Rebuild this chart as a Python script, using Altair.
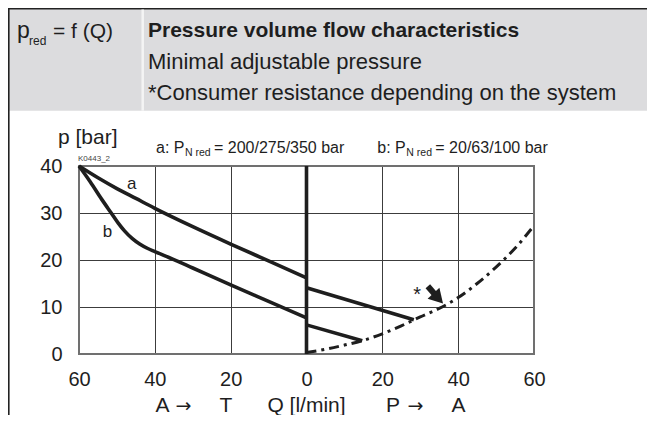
import altair as alt
import pandas as pd

# ---------------- data ----------------
a_left_q = [-60, -55, -50, -45, -40, -30, -20, -10, 0]
a_left_p = [40, 37.5, 35.2, 33.1, 31.0, 27.1, 23.4, 19.8, 16.2]
b_left_q = [-60, -57, -54, -51.5, -49.6, -48, -46, -44, -42, -40, -35, -30, -20, -10, 0]
b_left_p = [40, 36.6, 32.9, 30.0, 27.8, 26.2, 24.6, 23.4, 22.5, 21.8, 20.1, 18.3, 14.7, 11.2, 7.7]
a_right_q = [0, 28.3]
a_right_p = [14.1, 7.3]
b_right_q = [0, 14.7]
b_right_p = [6.2, 2.8]
zero_q = [0, 0]
zero_p = [0, 40]
res_q = [0, 5, 10, 15, 20, 25, 30, 35, 40, 45, 50, 55, 60]
res_p = [0.3, 1.0, 1.9, 2.9, 4.3, 6.0, 7.9, 9.7, 12.0, 15.0, 18.5, 22.5, 27.3]
arrow_q = [32.0, 34.75]
arrow_p = [14.4, 11.85]
star_q = [29.2]
star_p = [13.7]
curve_labels = ["a", "b"]
label_q = [-46.1, -52.5]
label_p = [36.2, 26.0]
x_ticks = [-60, -40, -20, 0, 20, 40, 60]
y_ticks = [0, 10, 20, 30, 40]

# ---------------- layout ----------------
PX0, PY0 = 79, 166          # page position of plot origin
W, H = 455, 188
FONT = "Liberation Sans"
INK = "#1e1e1e"

def X(v):
    return v - PX0

def Y(v):
    return v - PY0

segs = []
for name, qs, ps in [("a_left", a_left_q, a_left_p), ("b_left", b_left_q, b_left_p),
                     ("a_right", a_right_q, a_right_p), ("b_right", b_right_q, b_right_p),
                     ("zero", zero_q, zero_p)]:
    for i, (q, p) in enumerate(zip(qs, ps)):
        segs.append({"seg": name, "i": i, "q": q, "p": p})
lines_df = pd.DataFrame(segs)
res_df = pd.DataFrame({"q": res_q, "p": res_p, "i": range(len(res_q))})
arrow_df = pd.DataFrame({"q": [arrow_q[0]], "p": [arrow_p[0]], "q2": [arrow_q[1]], "p2": [arrow_p[1]]})
head_df = pd.DataFrame({"q": [arrow_q[1]], "p": [arrow_p[1]]})
star_df = pd.DataFrame({"q": star_q, "p": star_p, "t": ["*"]})
lab_df = pd.DataFrame({"q": label_q, "p": label_p, "t": curve_labels})
one = pd.DataFrame({"k": [0]})

xs = alt.Scale(domain=[-60, 60], nice=False, zero=False)
ys = alt.Scale(domain=[0, 40], nice=False, zero=False)

x_axis = alt.Axis(values=x_ticks, labelExpr="abs(datum.value)", grid=True, domain=False,
                  ticks=False, tickSize=0, title=None, labelPadding=15, labelFontSize=20,
                  labelFont=FONT, labelColor=INK, gridColor="#3c3c3c", gridWidth=1,
                  labelFlush=False, labelOverlap=False)
y_axis = alt.Axis(values=y_ticks, grid=True, domain=False, ticks=False, tickSize=0, title=None,
                  labelPadding=17, labelFontSize=20, labelFont=FONT, labelColor=INK,
                  gridColor="#3c3c3c", gridWidth=1, labelFlush=False, labelOverlap=False)

base_x = alt.X("q:Q", scale=xs, axis=x_axis)
base_y = alt.Y("p:Q", scale=ys, axis=y_axis)


def txt(s, px, py, size, weight="normal", align="left", color=INK, font=FONT):
    return alt.Chart(one).mark_text(text=s, align=align, baseline="alphabetic", fontSize=size,
                                    fontWeight=weight, font=font, color=color).encode(
        x=alt.value(X(px)), y=alt.value(Y(py)))


header_bg = alt.Chart(one).mark_rect(color="#dcdcde").encode(
    x=alt.value(X(8)), x2=alt.value(X(660)), y=alt.value(Y(8)), y2=alt.value(Y(110.7)))
top_border = alt.Chart(one).mark_rule(color="#222", strokeWidth=1.6).encode(
    x=alt.value(X(8)), x2=alt.value(X(660)), y=alt.value(Y(8.8)))
left_border = alt.Chart(one).mark_rule(color="#222", strokeWidth=1.6).encode(
    x=alt.value(X(8.8)), y=alt.value(Y(8)), y2=alt.value(Y(423)))
divider = alt.Chart(one).mark_rule(color="#f4f4f4", strokeWidth=2.5).encode(
    x=alt.value(X(142.7)), y=alt.value(Y(9.5)), y2=alt.value(Y(110.7)))

grid_layer = alt.Chart(one).mark_point(opacity=0).encode(x=alt.X("k:Q", scale=xs, axis=x_axis),
                                                          y=alt.Y("k:Q", scale=ys, axis=y_axis))
frame = alt.Chart(one).mark_rect(fillOpacity=0, stroke="#707070", strokeWidth=2).encode(
    x=alt.value(0), x2=alt.value(W), y=alt.value(0), y2=alt.value(H))

solid = alt.Chart(lines_df).mark_line(color=INK, strokeWidth=3.6, interpolate="monotone",
                                      strokeCap="butt", strokeJoin="miter").encode(
    x=base_x, y=base_y, detail="seg:N", order="i:Q")
resist = alt.Chart(res_df).mark_line(color=INK, strokeWidth=3, interpolate="monotone",
                                     strokeDash=[10, 5, 3, 5]).encode(x=base_x, y=base_y, order="i:Q")
shaft = alt.Chart(arrow_df).mark_rule(color=INK, strokeWidth=6).encode(
    x=base_x, y=base_y, x2="q2:Q", y2="p2:Q")
head = alt.Chart(head_df).mark_point(shape="triangle-right", filled=True, color=INK, opacity=1,
                                     size=260, angle=47).encode(x=base_x, y=base_y)
star = alt.Chart(star_df).mark_text(fontSize=20, font=FONT, color=INK, baseline="alphabetic",
                                    dy=11).encode(x=base_x, y=base_y, text="t:N")
labs = alt.Chart(lab_df).mark_text(fontSize=17, font=FONT, color=INK, baseline="middle").encode(
    x=base_x, y=base_y, text="t:N")

texts = [
    txt("p", 17, 38, 23),
    txt("red", 29, 45, 12),
    txt("= f (Q)", 53, 38, 21),
    txt("Pressure volume flow characteristics", 148, 37, 21, weight="bold"),
    txt("Minimal adjustable pressure", 148, 68.5, 22),
    txt("*Consumer resistance depending on the system", 148, 100, 22),
    txt("p [bar]", 58, 144, 21),
    txt("K0443_2", 78, 161, 8, color="#444"),
    txt("a: P", 156, 153.3, 16),
    txt("N red", 185, 156, 10.5),
    txt("= 200/275/350 bar", 214, 153.3, 16),
    txt("b: P", 377.3, 153.3, 16),
    txt("N red", 406.3, 156, 10.5),
    txt("= 20/63/100 bar", 435.3, 153.3, 16),
    txt("A", 162.5, 411.5, 21, align="center"),
    txt("\u2192", 183.5, 411.5, 19, align="center", font="DejaVu Sans"),
    txt("T", 226, 411.5, 21, align="center"),
    txt("Q [l/min]", 306.5, 411.5, 21, align="center"),
    txt("P", 393, 411.5, 21, align="center"),
    txt("\u2192", 415.5, 411.5, 19, align="center", font="DejaVu Sans"),
    txt("A", 458.5, 411.5, 21, align="center"),
]

chart = alt.layer(
    header_bg, top_border, left_border, divider, grid_layer, frame,
    solid, resist, shaft, head, star, labs, *texts
).properties(
    width=W, height=H,
    padding={"left": PX0 - 8, "top": PY0 - 8, "right": 639 - (PX0 - 8) - W, "bottom": 407 - (PY0 - 8) - H},
    autosize=alt.AutoSizeParams(type="none"),
    background="white",
).configure_view(stroke=None)

chart.save("out.html", embed_options={"renderer": "svg", "actions": False})
